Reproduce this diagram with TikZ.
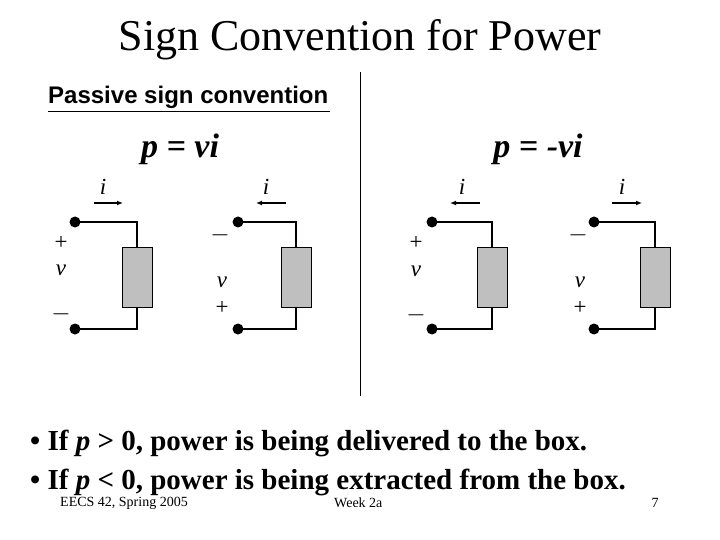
\documentclass[tikz,border=0pt]{standalone}
\usepackage{fontspec}
\usetikzlibrary{arrows.meta,calc}
\setmainfont{Liberation Serif}
\newfontfamily\arial{Liberation Sans}
\begin{document}
\begin{tikzpicture}[x=1pt,y=-1pt,
  wire/.style={line width=2.2pt},
  dotc/.style={circle,fill=black,inner sep=0pt,minimum size=11pt},
  boxr/.style={draw=black,fill=black!25,line width=0.8pt,minimum width=30pt,minimum height=60pt,inner sep=0pt},
  lab/.style={font=\fontsize{23}{23}\selectfont\itshape,inner sep=0pt},
  sgn/.style={font=\fontsize{23}{23}\selectfont,inner sep=0pt},
  cur/.style={line width=1.2pt,-{Latex[length=6pt,width=5pt]}}]
\useasboundingbox (0,0) rectangle (720,540);
\node (title) at (360,40) {\fontsize{44}{44}\selectfont Sign Convention for Power};
\node[inner sep=0pt,anchor=west] (psc) at (48,97) {\arial\bfseries\fontsize{24}{24}\selectfont Passive sign convention};
\draw[line width=1.2pt] ($(psc.south west)+(0,3)$) -- ($(psc.south east)+(2,3)$);
\coordinate (vt) at (360,72); \coordinate (vb) at (360,396);
\draw[line width=0.8pt] (vt) -- (vb);
\node (pa) at (180,149) {\fontsize{34}{34}\selectfont\bfseries\itshape p = vi};
\node (pb) at (538,149) {\fontsize{34}{34}\selectfont\bfseries\itshape p = -vi};
\foreach \n/\dx/\wx/\ax/\bx/\ix/\sx/\my in
 {1/75/137/94/123/103/61/270,
  2/238/296/286/256/266/222/282,
  3/432/492/480/450/462/416/271,
  4/594/655/612/642/622/580/282}{
  \node[dotc] (t\n) at (\dx,222) {};
  \node[dotc] (b\n) at (\dx,329) {};
  \node[boxr] (r\n) at (\wx,277) {};
  \draw[wire] (t\n.center) -| (r\n.north);
  \draw[wire] (b\n.center) -| (r\n.south);
  \coordinate (c\n a) at (\ax,203); \coordinate (c\n b) at (\bx,203);
  \draw[cur] (c\n a) -- (c\n b);
  \node[lab] (i\n) at (\ix,187) {i};
  \node[lab] (v\n) at (\sx,\my) {v};
}
\node[sgn] at (61,243) {+};   \node[sgn] at (61,314) {$-$};
\node[sgn] at (220,235) {$-$}; \node[sgn] at (222,308) {+};
\node[sgn] at (416,243) {+};  \node[sgn] at (416,315) {$-$};
\node[sgn] at (578,235) {$-$}; \node[sgn] at (580,308) {+};
\node[anchor=west,inner sep=0pt] (l1) at (30,443) {\fontsize{29}{29}\selectfont\bfseries • If \textit{p} > 0, power is being delivered to the box.};
\node[anchor=west,inner sep=0pt] (l2) at (30,482) {\fontsize{29}{29}\selectfont\bfseries • If \textit{p} < 0, power is being extracted from the box.};
\node[anchor=west,inner sep=0pt] (f1) at (60,503) {\fontsize{14}{14}\selectfont EECS 42, Spring 2005};
\node[anchor=west,inner sep=0pt] (f2) at (334,503) {\fontsize{14}{14}\selectfont Week 2a};
\node[inner sep=0pt] (f3) at (655,503) {\fontsize{14}{14}\selectfont 7};
\end{tikzpicture}
\end{document}
